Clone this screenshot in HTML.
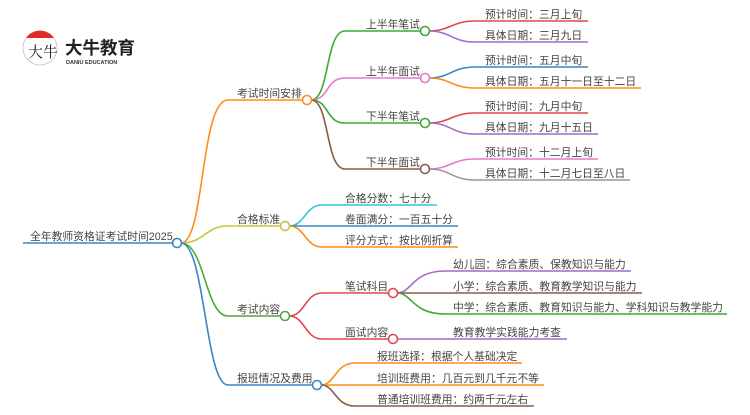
<!DOCTYPE html>
<html><head><meta charset="utf-8"><style>
html,body{margin:0;padding:0;background:#fff;}
svg text{font-family:"Liberation Sans","Noto Sans CJK SC",sans-serif;font-size:10.8px;fill:#444;}
</style></head><body>
<svg width="750" height="410" viewBox="0 0 750 410" xmlns="http://www.w3.org/2000/svg">
<g fill="none" stroke-width="1.6">
<path d="M23 243H172" stroke="#3a85c4"/>
<path d="M181 243C205 243 200 100 228 100H302" stroke="#ff8c1a"/>
<path d="M181 243C205 243 205 226 228 226H280" stroke="#c5c53a"/>
<path d="M181 243C205 243 205 316 228 316H280" stroke="#4aaa3a"/>
<path d="M181 243C205 243 205 385 228 385H312" stroke="#3a85c4"/>
<path d="M311 100C330 100 325 31 345 31H420" stroke="#3aaa35"/>
<path d="M311 100C330 100 325 78 345 78H420" stroke="#e878c8"/>
<path d="M311 100C330 100 325 123 345 123H420" stroke="#3aaa35"/>
<path d="M311 100C330 100 325 169 345 169H420" stroke="#8b5a4a"/>
<path d="M429 31C450 31 452 21 475 21H588" stroke="#e0474c"/>
<path d="M429 31C450 31 452 42 475 42H588" stroke="#a06cc8"/>
<path d="M429 78C450 78 452 67 475 67H588" stroke="#3a85c4"/>
<path d="M429 78C450 78 452 88 475 88H641" stroke="#ff8c1a"/>
<path d="M429 123C450 123 452 113 475 113H588" stroke="#e0474c"/>
<path d="M429 123C450 123 452 134 475 134H598" stroke="#a06cc8"/>
<path d="M429 169C450 169 452 159 475 159H598" stroke="#e878c8"/>
<path d="M429 169C450 169 452 180 475 180H630" stroke="#999"/>
<path d="M289 226C305 226 305 205 322 205H437" stroke="#2ec4dc"/>
<path d="M289 226H458" stroke="#3a85c4"/>
<path d="M289 226C305 226 305 247 322 247H458" stroke="#ff8c1a"/>
<path d="M289 316C305 316 305 293 322 293H388" stroke="#e0474c"/>
<path d="M289 316C305 316 305 339 322 339H388" stroke="#e0474c"/>
<path d="M397 293C412 293 412 271 445 271H631" stroke="#a06cc8"/>
<path d="M397 293H642" stroke="#8b5a4a"/>
<path d="M397 293C412 293 412 314 445 314H727" stroke="#3aaa35"/>
<path d="M397 339H567" stroke="#a06cc8"/>
<path d="M321 385C335 385 335 363 355 363H522" stroke="#ff8c1a"/>
<path d="M321 385H544" stroke="#ff8c1a"/>
<path d="M321 385C335 385 335 406 355 406H534" stroke="#8b5a4a"/>
</g>
<g fill="#fff" stroke-width="1.6">
<circle cx="177" cy="243" r="4.5" stroke="#3a85c4"/>
<circle cx="307" cy="100" r="4.5" stroke="#ff8c1a"/>
<circle cx="285" cy="226" r="4.5" stroke="#c5c53a"/>
<circle cx="285" cy="316" r="4.5" stroke="#4aaa3a"/>
<circle cx="317" cy="385" r="4.5" stroke="#3a85c4"/>
<circle cx="425" cy="31" r="4.5" stroke="#3aaa35"/>
<circle cx="425" cy="78" r="4.5" stroke="#e878c8"/>
<circle cx="425" cy="123" r="4.5" stroke="#3aaa35"/>
<circle cx="425" cy="169" r="4.5" stroke="#8b5a4a"/>
<circle cx="393" cy="293" r="4.5" stroke="#e0474c"/>
<circle cx="393" cy="339" r="4.5" stroke="#e0474c"/>
</g>
<circle cx="40" cy="48" r="17" fill="#fff" stroke="#ccc" stroke-width="1"/>
<path d="M26 38A17 17 0 0 1 54 38Z" fill="#e02a2a"/>
<text x="28" y="57" style="font-size:15px;fill:#222;font-family:'Noto Serif CJK SC',serif">大牛</text>
<text x="65" y="54" style="font-size:17.5px;font-weight:bold;fill:#222">大牛教育</text>
<text x="66" y="64" style="font-size:5.5px;fill:#333;font-weight:bold">DANIU EDUCATION</text>
<text x="30" y="240">全年教师资格证考试时间2025</text>
<text x="237" y="97">考试时间安排</text>
<text x="237" y="223">合格标准</text>
<text x="237" y="313">考试内容</text>
<text x="237" y="382">报班情况及费用</text>
<text x="366" y="28">上半年笔试</text>
<text x="366" y="75">上半年面试</text>
<text x="366" y="120">下半年笔试</text>
<text x="366" y="166">下半年面试</text>
<text x="485" y="18">预计时间：三月上旬</text>
<text x="485" y="39">具体日期：三月九日</text>
<text x="485" y="64">预计时间：五月中旬</text>
<text x="485" y="85">具体日期：五月十一日至十二日</text>
<text x="485" y="110">预计时间：九月中旬</text>
<text x="485" y="131">具体日期：九月十五日</text>
<text x="485" y="156">预计时间：十二月上旬</text>
<text x="485" y="177">具体日期：十二月七日至八日</text>
<text x="345" y="202">合格分数：七十分</text>
<text x="345" y="223">卷面满分：一百五十分</text>
<text x="345" y="244">评分方式：按比例折算</text>
<text x="345" y="290">笔试科目</text>
<text x="345" y="336">面试内容</text>
<text x="453" y="268">幼儿园：综合素质、保教知识与能力</text>
<text x="453" y="290">小学：综合素质、教育教学知识与能力</text>
<text x="453" y="311">中学：综合素质、教育知识与能力、学科知识与教学能力</text>
<text x="453" y="336">教育教学实践能力考查</text>
<text x="377" y="360">报班选择：根据个人基础决定</text>
<text x="377" y="382">培训班费用：几百元到几千元不等</text>
<text x="377" y="403">普通培训班费用：约两千元左右</text>
</svg>
</body></html>
